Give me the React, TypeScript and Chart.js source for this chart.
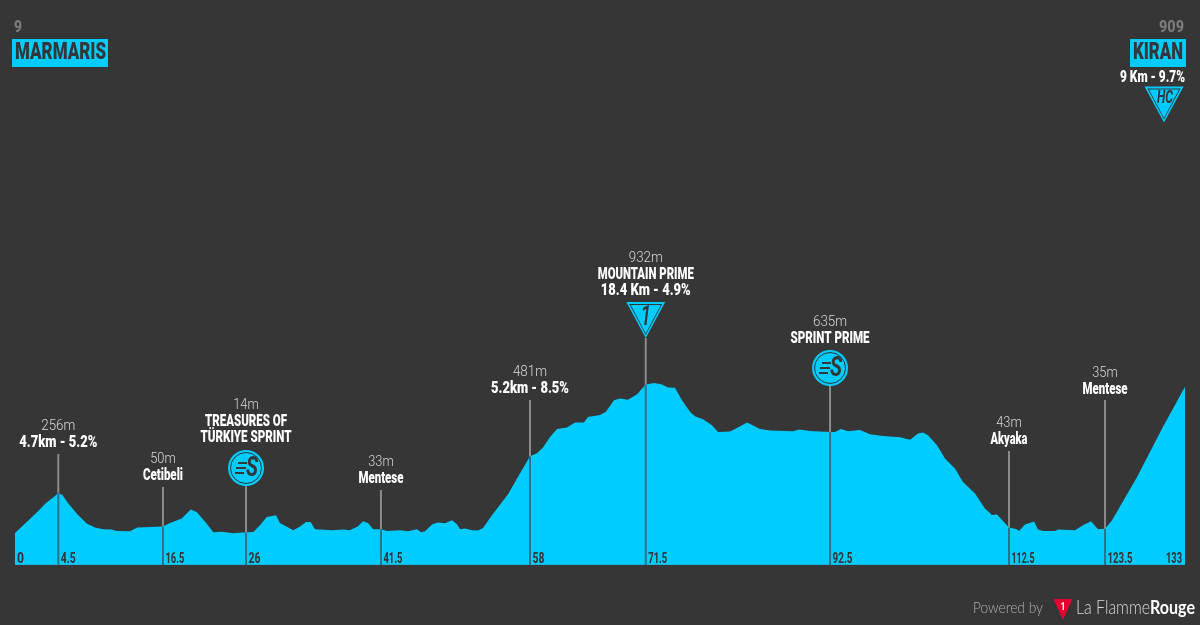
import React, { useEffect, useRef } from 'react';
import { Chart, registerables } from 'chart.js';

Chart.register(...registerables);

// profile: distance (km) and altitude (m)
const kms = [
  0, 1.33, 2.47, 3.52, 4.35, 4.92, 5.42, 6.06, 7.2, 8.15, 9.09, 10.04, 11.0, 11.56, 13.07, 13.9, 15.35, 16.82,
  17.62, 18.95, 19.97, 20.65, 21.79, 22.54, 23.5, 24.82, 26.26, 27.09, 27.85, 28.61, 29.67, 30.12, 31.64, 32.4,
  33.08, 33.61, 34.1, 36.15, 37.29, 38.08, 38.99, 39.56, 40.13, 40.7, 41.6, 42.29, 43.76, 44.67, 45.7, 46.15,
  46.61, 47.4, 48.08, 48.88, 49.68, 50.24, 50.59, 51.15, 51.95, 52.63, 53.2, 54.22, 56.04, 57.07, 58.54, 59.34,
  60.02, 60.82, 61.61, 62.75, 63.66, 64.68, 65.13, 66.5, 67.18, 68.09, 68.77, 69.68, 70.71, 71.7, 72.64, 73.55,
  74.23, 75.02, 75.82, 76.73, 77.3, 78.21, 79.23, 79.91, 81.28, 81.85, 83.22, 84.69, 85.83, 88.44, 89.12, 90.37,
  92.65, 93.21, 93.89, 94.69, 96.05, 97.19, 98.67, 100.6, 101.75, 102.65, 103.22, 103.79, 104.81, 105.72, 106.85,
  107.76, 109.13, 110.26, 111.06, 111.63, 112.99, 113.9, 114.13, 114.81, 115.84, 116.29, 116.86, 118.22, 118.57,
  120.5, 121.41, 122.32, 123.11, 123.91, 124.71, 127.55, 130.5, 133,
];
const altitudes = [
  9, 77, 135, 194, 228, 256, 242, 191, 119, 68, 43, 33, 31, 22, 20, 43, 47, 50,
  71, 98, 154, 139, 68, 14, 18, 8, 14, 16, 57, 108, 119, 71, 26, 50,
  77, 77, 33, 26, 31, 26, 51, 82, 71, 33, 33, 22, 26, 20, 33, 14,
  20, 62, 74, 69, 88, 63, 33, 37, 26, 25, 41, 119, 248, 344, 481, 500,
  535, 600, 649, 658, 689, 689, 723, 735, 754, 826, 836, 828, 863, 922, 932, 922,
  904, 902, 826, 754, 727, 709, 672, 631, 633, 648, 689, 648, 640, 635, 646, 637,
  630, 631, 648, 635, 643, 617, 606, 598, 582, 621, 627, 611, 549, 467, 406,
  323, 252, 160, 121, 123, 43, 33, 22, 62, 80, 31, 22, 22, 31,
  26, 57, 82, 33, 35, 88, 354, 662, 909,
];

// waypoints on the profile
const stopKms = [4.92, 16.82, 26.26, 41.6, 58.54, 71.7, 92.65, 112.99, 123.91];
const stopTicks = ['4.5', '16.5', '26', '41.5', '58', '71.5', '92.5', '112.5', '123.5'];
const stopHeights = ['256m', '50m', '14m', '33m', '481m', '932m', '635m', '43m', '35m'];
const stopNames = [
  ['4.7km - 5.2%'],
  ['Cetibeli'],
  ['TREASURES OF', 'TÜRKIYE SPRINT'],
  ['Mentese'],
  ['5.2km - 8.5%'],
  ['MOUNTAIN PRIME', '18.4 Km - 4.9%'],
  ['SPRINT PRIME'],
  ['Akyaka'],
  ['Mentese'],
];
const stopIcons = ['', '', 'sprint', '', '', 'climb', 'sprint', '', ''];

const BG = '#363636';
const BLUE = '#00ccff';
const FONT = 'Roboto, sans-serif';

// layout: y pixel of each stem top and first text line, widths the labels get squeezed to
const stemTops = [454, 487, 486, 490, 400, 338, 386, 451, 400];
const labelTops = [426, 459, 405, 462, 372, 258, 322, 423, 373];
const nameWidths = [[78], [40], [82, 91], [45], [78], [96, 90], [79], [37], [45]];
const tickWidths = [15, 19, 12, 19, 12, 19, 20, 23, 25];

function text(
  ctx: CanvasRenderingContext2D,
  s: string,
  x: number,
  y: number,
  font: string,
  color: string,
  align: CanvasTextAlign = 'center',
  width?: number,
) {
  ctx.font = font;
  ctx.fillStyle = color;
  ctx.textAlign = align;
  ctx.textBaseline = 'middle';
  if (width) ctx.fillText(s, x, y, width);
  else ctx.fillText(s, x, y);
}

function triangle(ctx: CanvasRenderingContext2D, cx: number, top: number, halfW: number, h: number, color: string) {
  ctx.fillStyle = color;
  ctx.beginPath();
  ctx.moveTo(cx - halfW, top);
  ctx.lineTo(cx + halfW, top);
  ctx.lineTo(cx, top + h);
  ctx.closePath();
  ctx.fill();
}

function climbBadge(ctx: CanvasRenderingContext2D, cx: number, top: number) {
  triangle(ctx, cx, top, 19.5, 36, BLUE);
  triangle(ctx, cx, top + 2, 16.5, 31, BG);
  triangle(ctx, cx, top + 3, 15, 28.5, BLUE);
}

function sprintBadge(ctx: CanvasRenderingContext2D, cx: number, cy: number) {
  ctx.fillStyle = BLUE;
  ctx.beginPath();
  ctx.arc(cx, cy, 18, 0, Math.PI * 2);
  ctx.fill();
  ctx.strokeStyle = BG;
  ctx.lineWidth = 1;
  ctx.beginPath();
  ctx.arc(cx, cy, 15.5, 0, Math.PI * 2);
  ctx.stroke();
  ctx.fillStyle = BG;
  ctx.fillRect(cx - 8, cy - 6, 9, 2);
  ctx.fillRect(cx - 10, cy - 1, 10, 2);
  ctx.fillRect(cx - 11, cy + 4, 9, 2);
  text(ctx, 'S', cx + 6, cy + 1, `italic 700 28px ${FONT}`, BG, 'center', 12);
}

const overlay = {
  id: 'overlay',
  beforeDatasetsDraw(chart: any) {
    const { ctx, scales } = chart;
    ctx.save();
    // grey part of the stems, the profile covers the rest
    stopKms.forEach((km, i) => {
      const x = scales.x.getPixelForValue(km);
      ctx.fillStyle = '#8b8b8b';
      ctx.fillRect(x - 1, stemTops[i], 2, scales.y.bottom - stemTops[i]);
    });
    ctx.restore();
  },
  afterDatasetsDraw(chart: any) {
    const { ctx, scales, chartArea } = chart;
    ctx.save();

    ctx.fillStyle = '#1ab4de';
    ctx.fillRect(chartArea.left, chartArea.bottom - 1, chartArea.right - chartArea.left, 1);

    stopKms.forEach((km, i) => {
      const x = scales.x.getPixelForValue(km);
      const alt = altitudes[kms.indexOf(km)];
      const y = scales.y.getPixelForValue(alt);
      ctx.fillStyle = '#2f7088';
      ctx.fillRect(x - 1, y, 2, chartArea.bottom - y);

      text(ctx, stopTicks[i], x + 2.5, 559, `800 15px ${FONT}`, BG, 'left', tickWidths[i]);
      const hw = stopHeights[i].length * 8.5;
      text(ctx, stopHeights[i], x, labelTops[i] + 0.5, `300 15px ${FONT}`, '#d8d8d8', 'center', hw);
      stopNames[i].forEach((line, j) => {
        text(ctx, line, x, labelTops[i] + 17 + j * 16, `900 16px ${FONT}`, '#ffffff', 'center', nameWidths[i][j]);
      });
      if (stopIcons[i] === 'sprint') sprintBadge(ctx, x, stemTops[i] - 18);
      if (stopIcons[i] === 'climb') {
        climbBadge(ctx, x, stemTops[i] - 36);
        text(ctx, '1', x, stemTops[i] - 36 + 16, `italic 500 27px ${FONT}`, BG, 'center', 11);
      }
    });

    text(ctx, '0', 17, 559, `800 15px ${FONT}`, BG, 'left', 7);
    text(ctx, '133', 1182, 559, `800 15px ${FONT}`, BG, 'right', 16);

    // start
    text(ctx, '9', 14, 28, `800 16px ${FONT}`, '#7c7c7c', 'left', 8);
    ctx.fillStyle = BLUE;
    ctx.fillRect(12, 39, 96, 28);
    text(ctx, 'MARMARIS', 15, 53, `900 24px ${FONT}`, BG, 'left', 91);

    // finish
    text(ctx, '909', 1184, 28, `800 16px ${FONT}`, '#7c7c7c', 'right', 25);
    ctx.fillStyle = BLUE;
    ctx.fillRect(1130, 39, 56, 28);
    text(ctx, 'KIRAN', 1183, 53, `900 24px ${FONT}`, BG, 'right', 50);
    text(ctx, '9 Km - 9.7%', 1185, 78, `900 16px ${FONT}`, '#ffffff', 'right', 65);
    climbBadge(ctx, 1164, 86.5);
    text(ctx, 'HC', 1165, 98.5, `italic 700 18px ${FONT}`, BG, 'center', 16);

    // footer
    text(ctx, 'Powered by', 973, 608, `300 15px Lato, ${FONT}`, '#b0b0b0', 'left', 70);
    triangle(ctx, 1063, 599, 9.5, 21, '#e4032e');
    text(ctx, '1', 1063, 607, `700 11px ${FONT}`, '#ffffff', 'center', 5);
    text(ctx, 'La Flamme', 1076, 608, `300 19px Lato, ${FONT}`, '#d8d8d8', 'left', 74);
    text(ctx, 'Rouge', 1150, 608, `700 19px Lato, ${FONT}`, '#ffffff', 'left', 45);

    ctx.restore();
  },
};

export default function App() {
  const chartRef = useRef<HTMLCanvasElement>(null);

  useEffect(() => {
    if (!chartRef.current) return;
    const myChart = new Chart(chartRef.current, {
      type: 'line',
      data: {
        datasets: [{
          data: kms.map((km, i) => ({ x: km, y: altitudes[i] })),
          borderWidth: 0,
          backgroundColor: BLUE,
          fill: 'start',
          pointRadius: 0,
          tension: 0,
        }],
      },
      options: {
        animation: false,
        responsive: false,
        layout: { padding: { left: 15, right: 15, top: 0, bottom: 60 } },
        plugins: { legend: { display: false }, tooltip: { enabled: false } },
        scales: {
          x: { type: 'linear', min: 0, max: 133, display: false },
          y: { min: -187, max: 3285, display: false },
        },
      },
      plugins: [overlay],
    });
    return () => {
      myChart.destroy();
    };
  }, []);

  return (
    <div style={{ position: 'fixed', left: 0, top: 0, width: 1200, height: 625, background: BG }}>
      <canvas ref={chartRef} width={1200} height={625} style={{ display: 'block' }}></canvas>
    </div>
  );
}
